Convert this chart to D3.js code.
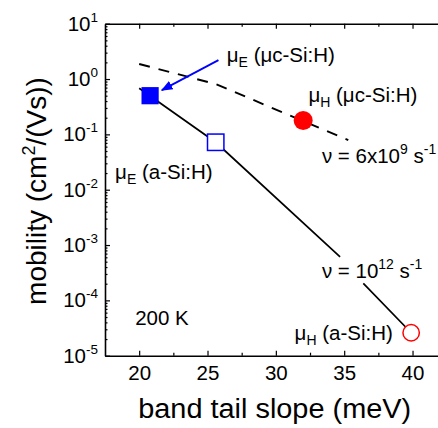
<!DOCTYPE html>
<html>
<head>
<meta charset="utf-8">
<script src="https://cdn.jsdelivr.net/npm/d3@7"></script>
<style>
  body { margin: 0; background: #fff; }
  text { font-family: "Liberation Sans", Arial, sans-serif; fill: #000; }
</style>
</head>
<body>
<svg id="chart" width="438" height="428"></svg>
<script>
// ---- measured mobilities (cm^2/Vs) vs. band tail slope (meV), 200 K ----
const pointSlope    = [20.8, 25.6, 32.0, 39.9];
const pointMobility = [0.50, 0.072, 0.178, 2.6e-5];
const pointKind     = ["muE-uc", "muE-a", "muH-uc", "muH-a"];

// ---- model curves; null marks the break left for the label ----
const nu12Slope    = [20.0, 25.6, 34.7, null, 36.4, 39.9];
const nu12Mobility = [0.68, 0.072, 6.1e-4, null, 2.03e-4, 2.6e-5];
const nu6e9Slope    = [20.0, 25.6, 35.3];
const nu6e9Mobility = [1.87, 0.81, 0.079];

// ---- axes ----
const xMajor = [20, 25, 30, 35, 40];
const xMinor = [22.5, 27.5, 32.5, 37.5];
const yExponents = [-5, -4, -3, -2, -1, 0, 1];

const svg = d3.select("#chart");
svg.append("rect").attr("width", 438).attr("height", 428).attr("fill", "#fff");

const x = d3.scaleLinear().domain([17.5, 42.5]).range([105, 446.7]);
const y = d3.scaleLog().domain([1e-5, 10]).range([355.7, 23.7]);
const [yBottom, yTop] = y.range();
const xLeft = x.range()[0];

// rich text helper: parts = [{t, sup?, sub?}]
function rich(sel, parts, size, small, supDy = -8, subDy = 5) {
  let cur = 0;
  parts.forEach(p => {
    const want = p.sup ? supDy : p.sub ? subDy : 0;
    const ts = sel.append("tspan").text(p.t)
      .attr("font-size", (p.sup || p.sub) ? small : size);
    if (want !== cur) ts.attr("dy", want - cur);
    cur = want;
  });
  return sel;
}

const yMinor = [];
for (let e = -5; e < 1; e++) for (let k = 2; k <= 9; k++) yMinor.push(k * Math.pow(10, e));

// bottom axis
const gB = svg.append("g").attr("transform", `translate(0,${yBottom})`);
gB.call(d3.axisBottom(x).tickValues(xMajor).tickSize(-5).tickSizeOuter(0)
  .tickPadding(10).tickFormat(d3.format("d")));
gB.append("g").call(d3.axisBottom(x).tickValues(xMinor).tickSize(-3).tickFormat(""))
  .select(".domain").remove();
gB.selectAll(".tick text").attr("font-size", 20.5).attr("font-family", null);

// top axis
const gT = svg.append("g").attr("transform", `translate(0,${yTop})`);
gT.call(d3.axisTop(x).tickValues(xMajor).tickSize(-5).tickSizeOuter(0).tickFormat(""));
gT.append("g").call(d3.axisTop(x).tickValues(xMinor).tickSize(-3).tickFormat(""))
  .select(".domain").remove();

// left axis
const gL = svg.append("g").attr("transform", `translate(${xLeft},0)`);
gL.call(d3.axisLeft(y).tickValues(yExponents.map(e => Math.pow(10, e)))
  .tickSize(-5).tickSizeOuter(0).tickFormat(""));
gL.append("g").call(d3.axisLeft(y).tickValues(yMinor).tickSize(-2.5).tickFormat(""))
  .select(".domain").remove();

svg.selectAll(".domain").attr("stroke-width", 1.6);
svg.selectAll(".tick line").attr("stroke-width", 1.2);

// decade labels 10^n
yExponents.forEach(e => {
  const t = svg.append("text").attr("x", xLeft - 7).attr("y", y(Math.pow(10, e)) + 7)
    .attr("text-anchor", "end");
  rich(t, [{ t: "10" }, { t: String(e), sup: true }], 20.5, 13.5, -9);
});

// axis titles
svg.append("text").attr("x", 274.7).attr("y", 418).attr("text-anchor", "middle")
  .attr("font-size", 27).attr("textLength", 273).attr("lengthAdjust", "spacingAndGlyphs")
  .text("band tail slope (meV)");
const yt = svg.append("text").attr("text-anchor", "middle")
  .attr("transform", "translate(46,191) rotate(-90)");
rich(yt, [{ t: "mobility (cm" }, { t: "2", sup: true }, { t: "/(Vs))" }], 28, 18, -11);

// model lines
const line = (xs, ys) => d3.line()
  .defined((d, i) => xs[i] !== null)
  .x((d, i) => x(xs[i])).y((d, i) => y(ys[i]))(xs);

svg.append("path").attr("d", line(nu12Slope, nu12Mobility))
  .attr("fill", "none").attr("stroke", "#000").attr("stroke-width", 1.7);
svg.append("path").attr("d", line(nu6e9Slope, nu6e9Mobility))
  .attr("fill", "none").attr("stroke", "#000").attr("stroke-width", 1.9)
  .attr("stroke-dasharray", "11,9");

// arrow pointing at the microcrystalline electron mobility
const defs = svg.append("defs");
defs.append("marker").attr("id", "head").attr("viewBox", "0 0 10 10")
  .attr("refX", 9).attr("refY", 5).attr("markerWidth", 6.5).attr("markerHeight", 6.5)
  .attr("markerUnits", "strokeWidth").attr("orient", "auto")
  .append("path").attr("d", "M0,1 L10,5 L0,9 Z").attr("fill", "#0000ff");
svg.append("line")
  .attr("x1", x(25.8)).attr("y1", y(2.2))
  .attr("x2", x(21.66)).attr("y2", y(0.63))
  .attr("stroke", "#0000ff").attr("stroke-width", 1.8)
  .attr("marker-end", "url(#head)");

// markers
const marks = svg.append("g");
pointKind.forEach((k, i) => {
  const cx = x(pointSlope[i]), cy = y(pointMobility[i]);
  if (k === "muE-uc") {
    marks.append("rect").attr("x", cx - 8.6).attr("y", cy - 8.6)
      .attr("width", 17.2).attr("height", 17.2).attr("fill", "#0000ff");
  } else if (k === "muE-a") {
    marks.append("rect").attr("x", cx - 8.2).attr("y", cy - 8.2)
      .attr("width", 16.4).attr("height", 16.4).attr("fill", "#fff")
      .attr("stroke", "#0000ff").attr("stroke-width", 1.5);
  } else if (k === "muH-uc") {
    marks.append("circle").attr("cx", cx).attr("cy", cy).attr("r", 9.5).attr("fill", "#ff0000");
  } else {
    marks.append("circle").attr("cx", cx).attr("cy", cy).attr("r", 8.2)
      .attr("fill", "#fff").attr("stroke", "#ff0000").attr("stroke-width", 1.5);
  }
});

// annotations
const notes = [
  { at: [26.41, 2.03],   anchor: "start", parts: [{ t: "μ" }, { t: "E", sub: true }, { t: " (μc-Si:H)" }] },
  { at: [32.38, 0.389],  anchor: "start", parts: [{ t: "μ" }, { t: "H", sub: true }, { t: " (μc-Si:H)" }] },
  { at: [33.37, 0.030],  anchor: "start", parts: [{ t: "ν = 6x10" }, { t: "9", sup: true }, { t: " s" }, { t: "-1", sup: true }] },
  { at: [18.24, 0.0154], anchor: "start", parts: [{ t: "μ" }, { t: "E", sub: true }, { t: " (a-Si:H)" }] },
  { at: [33.37, 2.5e-4], anchor: "start", parts: [{ t: "ν = 10" }, { t: "12", sup: true }, { t: " s" }, { t: "-1", sup: true }] },
  { at: [38.56, 1.92e-5],anchor: "end",   parts: [{ t: "μ" }, { t: "H", sub: true }, { t: " (a-Si:H)" }] },
  { at: [19.71, 3.58e-5],anchor: "start", parts: [{ t: "200 K" }] }
];
notes.forEach(n => {
  const t = svg.append("text").attr("x", x(n.at[0])).attr("y", y(n.at[1]))
    .attr("text-anchor", n.anchor);
  rich(t, n.parts, 20.5, 14, -9, 5);
});
</script>
</body>
</html>
